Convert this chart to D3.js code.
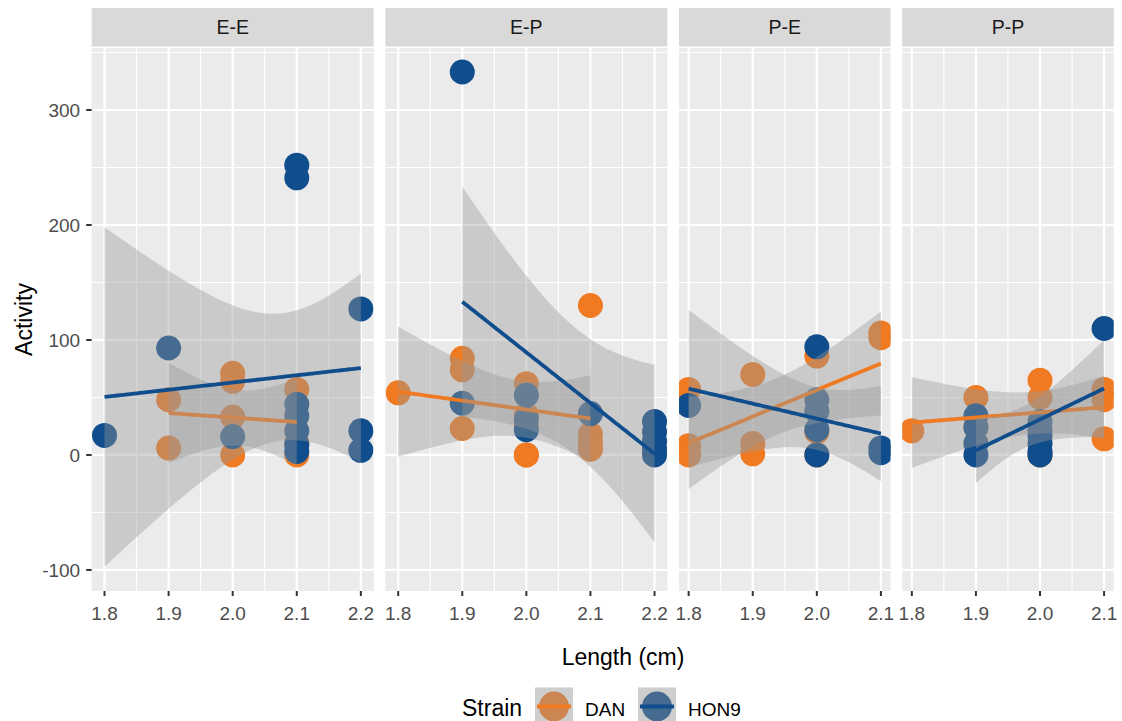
<!DOCTYPE html>
<html>
<head>
<meta charset="utf-8">
<script src="https://cdn.jsdelivr.net/npm/d3@7"></script>
<style>
  body { margin: 0; background: #fff; }
  text { font-family: "Liberation Sans", Arial, sans-serif; }
</style>
</head>
<body>
<svg id="chart" width="1122" height="721"></svg>
<script>
// data: [Length, Activity]
const facets = ["E-E", "E-P", "P-E", "P-P"]
const strains = ["DAN", "HON9"]
const strainColors = ["#EF7A22", "#104D8C"]
const yTicks = [-100, 0, 100, 200, 300]

const danEE = [[1.9, 48], [1.9, 6], [2.0, 71], [2.0, 64], [2.0, 33], [2.0, 0], [2.1, 57], [2.1, 10], [2.1, 0]]
const hon9EE = [[1.8, 17], [1.9, 93], [2.0, 16], [2.1, 252], [2.1, 241], [2.1, 44], [2.1, 34], [2.1, 21], [2.1, 9], [2.1, 3], [2.2, 127], [2.2, 21], [2.2, 4]]
const danEP = [[1.8, 54], [1.9, 84], [1.9, 74], [1.9, 23], [2.0, 62], [2.0, 35], [2.0, 25], [2.0, 0], [2.0, 0], [2.1, 130], [2.1, 18], [2.1, 11], [2.1, 5]]
const hon9EP = [[1.9, 333], [1.9, 45], [2.0, 52], [2.0, 31], [2.0, 22], [2.1, 36], [2.2, 29], [2.2, 20], [2.2, 12], [2.2, 5], [2.2, 0]]
const danPE = [[1.8, 57], [1.8, 8], [1.8, 0], [1.9, 70], [1.9, 10], [1.9, 1], [2.0, 86], [2.0, 20], [2.0, 0], [2.1, 106], [2.1, 102]]
const hon9PE = [[1.8, 43], [2.0, 94], [2.0, 48], [2.0, 38], [2.0, 22], [2.0, 0], [2.1, 6], [2.1, 2]]
const danPP = [[1.8, 21], [1.9, 50], [1.9, 24], [2.0, 65], [2.0, 50], [2.0, 0], [2.1, 57], [2.1, 48], [2.1, 14]]
const hon9PP = [[1.9, 34], [1.9, 24], [1.9, 10], [1.9, 0], [2.0, 29], [2.0, 22], [2.0, 17], [2.0, 10], [2.0, 3], [2.0, 0], [2.1, 110]]

const facetData = {
    "E-E": [danEE, hon9EE],
    "E-P": [danEP, hon9EP],
    "P-E": [danPE, hon9PE],
    "P-P": [danPP, hon9PP]
}

// ---- stats helpers (lm + 95% confidence band like geom_smooth) ----
function lgamma(x) {
    const c = [0.99999999999980993, 676.5203681218851, -1259.1392167224028, 771.32342877765313,
        -176.61502916214059, 12.507343278686905, -0.13857109526572012, 9.9843695780195716e-6, 1.5056327351493116e-7]
    if (x < 0.5) return Math.log(Math.PI / Math.sin(Math.PI * x)) - lgamma(1 - x)
    x -= 1
    let a = c[0]
    const t = x + 7.5
    for (let i = 1; i < 9; i++) a += c[i] / (x + i)
    return 0.5 * Math.log(2 * Math.PI) + (x + 0.5) * Math.log(t) - t + Math.log(a)
}
function tHalfArea(x, df) {
    const k = Math.exp(lgamma((df + 1) / 2) - lgamma(df / 2)) / Math.sqrt(df * Math.PI)
    const n = 400, h = x / n
    let s = 0
    for (let i = 0; i <= n; i++) {
        const v = k * Math.pow(1 + (i * h) ** 2 / df, -(df + 1) / 2)
        s += (i === 0 || i === n) ? v : (i % 2 ? 4 * v : 2 * v)
    }
    return s * h / 3
}
function tQuantile(df) {
    let lo = 0, hi = 20
    for (let i = 0; i < 60; i++) {
        const mid = (lo + hi) / 2
        if (tHalfArea(mid, df) < 0.475) lo = mid; else hi = mid
    }
    return (lo + hi) / 2
}
function smooth(points) {
    const n = points.length
    const xm = d3.mean(points, d => d[0]), ym = d3.mean(points, d => d[1])
    const sxx = d3.sum(points, d => (d[0] - xm) ** 2)
    const sxy = d3.sum(points, d => (d[0] - xm) * (d[1] - ym))
    const b = sxy / sxx, a = ym - b * xm
    const sse = d3.sum(points, d => (d[1] - a - b * d[0]) ** 2)
    const s = Math.sqrt(sse / (n - 2))
    const t = tQuantile(n - 2)
    const [x0, x1] = d3.extent(points, d => d[0])
    return d3.range(80).map(i => {
        const x = x0 + (x1 - x0) * i / 79
        const fit = a + b * x
        const se = s * Math.sqrt(1 / n + (x - xm) ** 2 / sxx)
        return { x, fit, lo: fit - t * se, hi: fit + t * se }
    })
}

// ---- layout ----
const svg = d3.select("#chart")
const plotLeft = 91.7, plotRight = 1113.7, gap = 11.7
const stripTop = 8, stripBottom = 46.5, panelTop = 48, panelBottom = 591

const y = d3.scaleLinear().domain([-118.3, 353.9]).range([panelBottom, panelTop])

const ranges = facets.map(f => {
    const ext = d3.extent(facetData[f].flat(), d => d[0])
    const pad = (ext[1] - ext[0]) * 0.05
    return [ext[0] - pad, ext[1] + pad]
})
const totalRange = d3.sum(ranges, r => r[1] - r[0])
const pxPerUnit = (plotRight - plotLeft - gap * (facets.length - 1)) / totalRange

let cursor = plotLeft
const panels = facets.map((f, i) => {
    const w = (ranges[i][1] - ranges[i][0]) * pxPerUnit
    const p = { name: f, x0: cursor, w, x: d3.scaleLinear().domain(ranges[i]).range([cursor, cursor + w]) }
    cursor += w + gap
    return p
})

const fmt = d3.format(".1f")
const line = d3.line().x(d => d.px).y(d => y(d.fit))

panels.forEach((p, pi) => {
    const g = svg.append("g")
    const x = p.x
    const [d0, d1] = x.domain()
    const majors = d3.range(Math.ceil(d0 * 10 - 1e-6), Math.floor(d1 * 10 + 1e-6) + 1).map(v => v / 10)
    const minors = majors.slice(0, -1).map(v => v + 0.05)

    // strip
    g.append("rect").attr("x", p.x0).attr("y", stripTop).attr("width", p.w).attr("height", stripBottom - stripTop).attr("fill", "#D9D9D9")
    g.append("text").attr("x", p.x0 + p.w / 2).attr("y", (stripTop + stripBottom) / 2).attr("dy", "0.36em")
        .attr("text-anchor", "middle").attr("fill", "#1A1A1A").style("font-size", "19.5px").text(p.name)

    // panel background + grid
    g.append("rect").attr("x", p.x0).attr("y", panelTop).attr("width", p.w).attr("height", panelBottom - panelTop).attr("fill", "#EBEBEB")
    const yMinor = yTicks.slice(0, -1).map(v => v + 50).concat([yTicks[0] - 50, yTicks[yTicks.length - 1] + 50])
        .filter(v => v >= y.domain()[0] && v <= y.domain()[1])
    g.selectAll(".ymin").data(yMinor).join("line").attr("x1", p.x0).attr("x2", p.x0 + p.w)
        .attr("y1", d => y(d)).attr("y2", d => y(d)).attr("stroke", "#fff").attr("stroke-width", 1.1)
    g.selectAll(".xmin").data(minors).join("line").attr("y1", panelTop).attr("y2", panelBottom)
        .attr("x1", d => x(d)).attr("x2", d => x(d)).attr("stroke", "#fff").attr("stroke-width", 1.1)
    g.selectAll(".ymaj").data(yTicks).join("line").attr("x1", p.x0).attr("x2", p.x0 + p.w)
        .attr("y1", d => y(d)).attr("y2", d => y(d)).attr("stroke", "#fff").attr("stroke-width", 2.2)
    g.selectAll(".xmaj").data(majors).join("line").attr("y1", panelTop).attr("y2", panelBottom)
        .attr("x1", d => x(d)).attr("x2", d => x(d)).attr("stroke", "#fff").attr("stroke-width", 2.2)

    // clip
    const clipId = "clip" + pi
    svg.append("clipPath").attr("id", clipId).append("rect")
        .attr("x", p.x0).attr("y", panelTop).attr("width", p.w).attr("height", panelBottom - panelTop)
    const marks = g.append("g").attr("clip-path", `url(#${clipId})`)

    // points (DAN first, HON9 on top)
    facetData[p.name].forEach((pts, si) => {
        marks.selectAll(".pt" + si).data(pts).join("circle")
            .attr("cx", d => x(d[0])).attr("cy", d => y(d[1])).attr("r", 12.5)
            .attr("fill", strainColors[si])
    })

    // smooth: ribbon then line, per group
    facetData[p.name].forEach((pts, si) => {
        const fit = smooth(pts).map(d => ({ ...d, px: x(d.x) }))
        marks.append("path").datum(fit)
            .attr("d", d3.area().x(d => d.px).y0(d => y(d.lo)).y1(d => y(d.hi)))
            .attr("fill", "#999999").attr("fill-opacity", 0.4)
        marks.append("path").datum(fit).attr("d", line)
            .attr("fill", "none").attr("stroke", strainColors[si]).attr("stroke-width", 3.8)
    })

    // x axis
    const xa = g.append("g")
    xa.selectAll("line").data(majors).join("line").attr("x1", d => x(d)).attr("x2", d => x(d))
        .attr("y1", panelBottom).attr("y2", panelBottom + 5).attr("stroke", "#333").attr("stroke-width", 2)
    xa.selectAll("text").data(majors).join("text").attr("x", d => x(d)).attr("y", 619.5)
        .attr("text-anchor", "middle").attr("fill", "#4D4D4D").style("font-size", "19px").text(d => fmt(d))

    // y axis on first panel
    if (pi === 0) {
        const ya = g.append("g")
        ya.selectAll("line").data(yTicks).join("line").attr("x1", p.x0 - 5.5).attr("x2", p.x0)
            .attr("y1", d => y(d)).attr("y2", d => y(d)).attr("stroke", "#333").attr("stroke-width", 2)
        ya.selectAll("text").data(yTicks).join("text").attr("x", p.x0 - 11.5).attr("y", d => y(d)).attr("dy", "0.36em")
            .attr("text-anchor", "end").attr("fill", "#4D4D4D").style("font-size", "19px").text(d => d)
    }
})

// axis titles
svg.append("text").attr("x", 623).attr("y", 665).attr("text-anchor", "middle").style("font-size", "23px").text("Length (cm)")
svg.append("text").attr("transform", `translate(31.5, ${(panelTop + panelBottom) / 2}) rotate(-90)`)
    .attr("text-anchor", "middle").style("font-size", "23px").text("Activity")

// legend
const legend = svg.append("g")
legend.append("text").attr("x", 462).attr("y", 716).style("font-size", "23px").text("Strain")
const keyX = [535, 638], keySize = 38, keyTop = 687.5
strains.forEach((s, i) => {
    const k = legend.append("g").attr("transform", `translate(${keyX[i]},${keyTop})`)
    k.append("rect").attr("width", keySize).attr("height", keySize).attr("fill", "#F2F2F2")
    k.append("circle").attr("cx", keySize / 2).attr("cy", keySize / 2).attr("r", 15).attr("fill", strainColors[i])
    k.append("rect").attr("width", keySize).attr("height", keySize).attr("fill", "#999999").attr("fill-opacity", 0.4)
    k.append("line").attr("x1", 2).attr("x2", keySize - 2).attr("y1", keySize / 2).attr("y2", keySize / 2)
        .attr("stroke", strainColors[i]).attr("stroke-width", 3.8)
    legend.append("text").attr("x", keyX[i] + keySize + 12).attr("y", 716).style("font-size", "19px").text(s)
})
</script>
</body>
</html>
